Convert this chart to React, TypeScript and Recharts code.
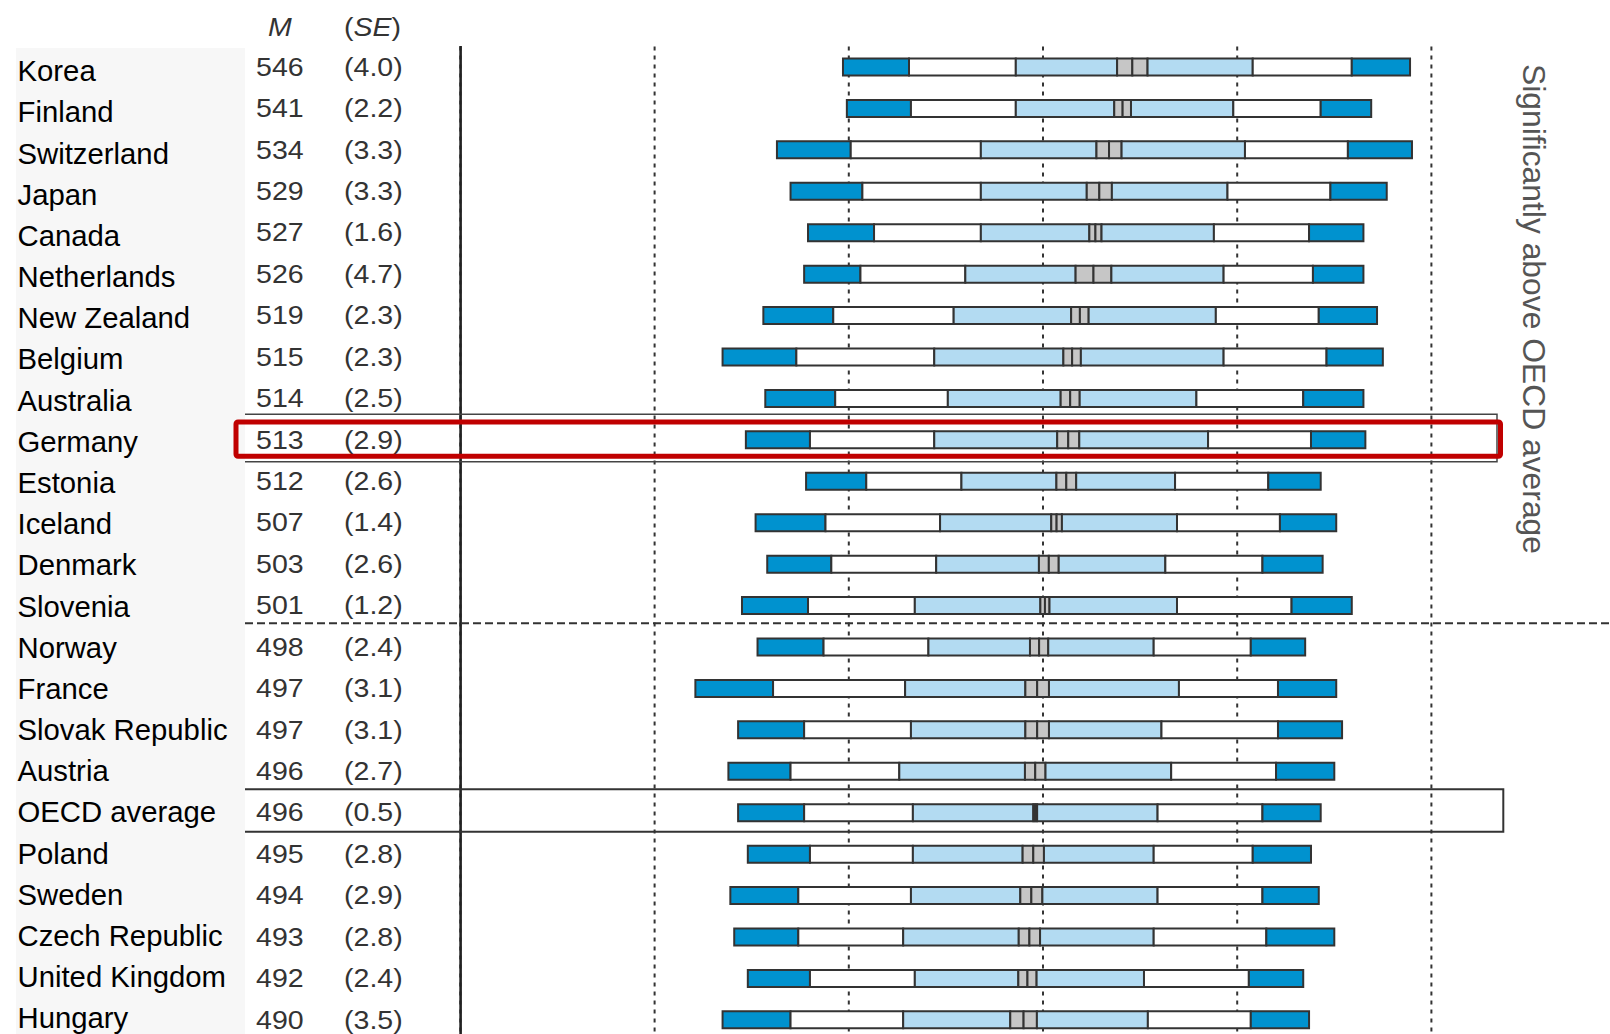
import React from 'react';
import { BarChart, Bar, XAxis, YAxis, CartesianGrid } from 'recharts';

const countries = [
  'Korea', 'Finland', 'Switzerland', 'Japan', 'Canada', 'Netherlands', 'New Zealand', 'Belgium',
  'Australia', 'Germany', 'Estonia', 'Iceland', 'Denmark', 'Slovenia', 'Norway', 'France',
  'Slovak Republic', 'Austria', 'OECD average', 'Poland', 'Sweden', 'Czech Republic', 'United Kingdom', 'Hungary',
];
const means = [546, 541, 534, 529, 527, 526, 519, 515, 514, 513, 512, 507, 503, 501, 498, 497, 497, 496, 496, 495, 494, 493, 492, 490];
const ses = [4.0, 2.2, 3.3, 3.3, 1.6, 4.7, 2.3, 2.3, 2.5, 2.9, 2.6, 1.4, 2.6, 1.2, 2.4, 3.1, 3.1, 2.7, 0.5, 2.8, 2.9, 2.8, 2.4, 3.5];
const p5 = [397, 399, 363, 370, 379, 377, 356, 335, 357, 347, 378, 352, 358, 345, 353, 321, 343, 338, 343, 348, 339, 341, 348, 335];
const p10 = [431, 432, 401, 407, 413, 406, 392, 373, 393, 380, 409, 388, 391, 379, 387, 361, 377, 370, 377, 380, 374, 374, 380, 370];
const p25 = [486, 486, 468, 468, 468, 460, 454, 444, 451, 444, 458, 447, 445, 434, 441, 429, 432, 426, 433, 433, 432, 428, 434, 428];
const p75 = [608, 598, 604, 595, 588, 593, 589, 593, 579, 585, 568, 569, 563, 569, 557, 570, 561, 566, 559, 557, 559, 557, 552, 554];
const p90 = [659, 643, 657, 648, 637, 639, 642, 646, 634, 638, 616, 622, 613, 628, 607, 621, 621, 620, 613, 608, 613, 615, 606, 607];
const p95 = [689, 669, 690, 677, 665, 665, 672, 675, 665, 666, 643, 651, 644, 659, 635, 651, 654, 650, 643, 638, 642, 650, 634, 637];
const gridTicks = [300, 400, 500, 600, 700];
const sideNote = 'Significantly above OECD average';

const data = countries.map((c, i) => {
  const lo = means[i] - 1.96 * ses[i];
  const hi = means[i] + 1.96 * ses[i];
  return {
    country: c,
    base: p5[i],
    s1: p10[i] - p5[i],
    s2: p25[i] - p10[i],
    s3: lo - p25[i],
    s4: means[i] - lo,
    s5: hi - means[i],
    s6: p75[i] - hi,
    s7: p90[i] - p75[i],
    s8: p95[i] - p90[i],
  };
});

const VW = 1610;
const W = 1640;
const H = 1045;
const FONT = 'Liberation Sans, Arial, Helvetica, sans-serif';
const DARK = '#0092CF';
const LIGHT = '#B3DBF2';
const GREY = '#C6C6C6';
const OUT = '#333333';

const RowLabel = (props: any) => {
  const { y, payload } = props;
  const i = countries.indexOf(payload.value);
  return (
    <g>
      <text x={17.5} y={y + 14 - i * 0.25} fontSize={29.3} fill="#000" fontFamily={FONT}>{payload.value}</text>
      <text transform={`translate(256, ${y + 8.5}) scale(1.12, 1)`} fontSize={25.5} fill="#333" fontFamily={FONT}>{means[i]}</text>
      <text transform={`translate(344, ${y + 8.5}) scale(1.12, 1)`} fontSize={25.5} fill="#333" fontFamily={FONT}>({ses[i].toFixed(1)})</text>
    </g>
  );
};

const segs = [
  { key: 's1', fill: DARK },
  { key: 's2', fill: '#FFFFFF' },
  { key: 's3', fill: LIGHT },
  { key: 's4', fill: GREY },
  { key: 's5', fill: GREY },
  { key: 's6', fill: LIGHT },
  { key: 's7', fill: '#FFFFFF' },
  { key: 's8', fill: DARK },
];

export default function App() {
  return (
    <div style={{ position: 'absolute', left: 0, top: 0, width: VW, height: 1034, overflow: 'hidden', background: '#fff' }}>
      <svg width={VW} height={H} style={{ position: 'absolute', left: 0, top: 0 }}>
        <rect x={16} y={48} width={229} height={H - 48} fill="#f7f7f7" />
      </svg>
      <div style={{ position: 'absolute', left: 0, top: 0 }}>
        <BarChart
          width={W}
          height={H}
          data={data}
          layout="vertical"
          margin={{ top: 46.5, right: 14.4, bottom: 4.2, left: 17.5 }}
          barSize={17}
        >
          <CartesianGrid horizontal={false} stroke="#333" strokeWidth={2} strokeDasharray="4 5" />
          <XAxis type="number" domain={[200, 800]} ticks={gridTicks} allowDataOverflow hide />
          <YAxis
            type="category"
            dataKey="country"
            width={442.9}
            axisLine={false}
            tickLine={false}
            interval={0}
            tick={<RowLabel />}
          />
          <Bar dataKey="base" stackId="a" fill="none" stroke="none" isAnimationActive={false} />
          {segs.map((s) => (
            <Bar
              key={s.key}
              dataKey={s.key}
              stackId="a"
              fill={s.fill}
              stroke={OUT}
              strokeWidth={2}
              isAnimationActive={false}
            />
          ))}
        </BarChart>
      </div>
      <svg width={VW} height={H} style={{ position: 'absolute', left: 0, top: 0, pointerEvents: 'none' }}>
        <text transform="translate(268, 36) scale(1.12, 1)" fontSize={25.5} fill="#333" fontFamily={FONT} fontStyle="italic">M</text>
        <text transform="translate(344, 36) scale(1.12, 1)" fontSize={25.5} fill="#333" fontFamily={FONT}>
          (<tspan fontStyle="italic">SE</tspan>)
        </text>
        <rect x={459.3} y={46} width={2.6} height={H - 46} fill="#222" />
        <line x1={245} y1={623.3} x2={VW} y2={623.3} stroke="#333" strokeWidth={2} strokeDasharray="8 4" />
        <path d="M245 414.3 H1497 V461.7 H245" fill="none" stroke="#444" strokeWidth={1.5} />
        <rect x={236} y={422} width={1264.5} height={34.3} rx={2} fill="none" stroke="#C00000" strokeWidth={5} />
        <path d="M245 789.3 H1503.3 V831.7 H245" fill="none" stroke="#333" strokeWidth={2} />
        <text
          transform="translate(1534, 309) rotate(90)"
          textAnchor="middle"
          dominantBaseline="central"
          fontSize={32}
          fill="#555"
          fontFamily={FONT}
          textLength={490}
          lengthAdjust="spacingAndGlyphs"
        >
          {sideNote}
        </text>
      </svg>
    </div>
  );
}
